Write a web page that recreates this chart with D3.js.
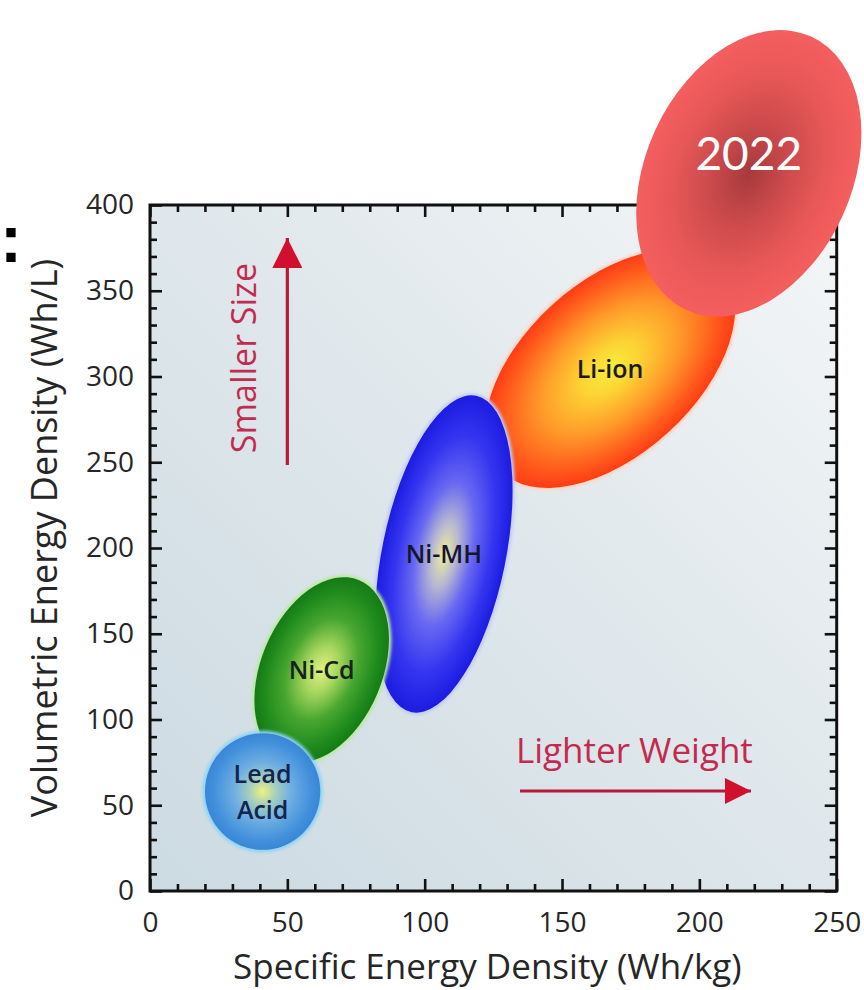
<!DOCTYPE html>
<html>
<head>
<meta charset="utf-8">
<script src="https://cdn.jsdelivr.net/npm/d3@7"></script>
<style>
  html, body { margin: 0; padding: 0; background: #ffffff; }
  svg { display: block; }
</style>
</head>
<body>
<script>
// Battery chemistries: ranges of specific energy (Wh/kg) and volumetric energy (Wh/L)
const chemistries   = ["Li-ion", "Ni-MH", "Ni-Cd", "Lead Acid", "2022"];
const labelLines    = [["Li-ion"], ["Ni-MH"], ["Ni-Cd"], ["Lead", "Acid"], ["2022"]];
const specificMin   = [122, 82, 38, 20, 177];
const specificMax   = [213, 132, 87, 62, 259];
const volumetricMin = [235, 104, 75, 24, 335];
const volumetricMax = [374, 289, 183, 92, 502];
// correlation between the two densities inside each range (gives the tilt)
const correlation   = [0.5, 0.4, 0.33, 0, 0.28];

const xTicks = [0, 50, 100, 150, 200, 250];
const yTicks = [0, 50, 100, 150, 200, 250, 300, 350, 400];

// fill styles, one per chemistry
const fills = [
  { stops: [["0%", "#f6ee3c"], ["22%", "#fcd434"], ["55%", "#ff9a2a"], ["85%", "#ff5a1c"], ["100%", "#ff3c14"]], rim: "#ffd6c6", ink: "#1c1a14" },
  { stops: [["0%", "#efee9a"], ["20%", "#b8b8d2"], ["45%", "#6868f2"], ["75%", "#3434f0"], ["100%", "#1c1ce2"]], rim: "#c4ccf6", ink: "#141630" },
  { stops: [["0%", "#e2f282"], ["25%", "#a6d65e"], ["55%", "#48a630"], ["85%", "#1e8a1c"], ["100%", "#167a16"]], rim: "#bce8a6", ink: "#14241a" },
  { stops: [["0%", "#eef27c"], ["22%", "#a8d0bc"], ["50%", "#6eaee2"], ["85%", "#4290dc"], ["100%", "#3a86d6"]], rim: "#8ed4f4", ink: "#14244a" },
  { stops: [["0%", "#a63a3c"], ["35%", "#cc4a4c"], ["70%", "#e85858"], ["100%", "#f45e5e"]], rim: null, ink: "#ffffff" }
];

const W = 864, H = 990;
const x = d3.scaleLinear().domain([0, 250]).range([150, 836.7]);
const y = d3.scaleLinear().domain([0, 400]).range([891, 205]);

const svg = d3.select("body").append("svg")
  .attr("width", W).attr("height", H)
  .attr("viewBox", `0 0 ${W} ${H}`);

const defs = svg.append("defs");

// plot background
const bg = defs.append("linearGradient").attr("id", "plotBg")
  .attr("x1", 0).attr("y1", 1).attr("x2", 1).attr("y2", 0);
bg.append("stop").attr("offset", "0%").attr("stop-color", "#ccdae2");
bg.append("stop").attr("offset", "55%").attr("stop-color", "#e0e8ec");
bg.append("stop").attr("offset", "100%").attr("stop-color", "#f4f6f7");

defs.append("filter").attr("id", "soft")
  .attr("x", "-20%").attr("y", "-20%").attr("width", "140%").attr("height", "140%")
  .append("feGaussianBlur").attr("stdDeviation", 1.6);

fills.forEach((f, i) => {
  const g = defs.append("radialGradient").attr("id", "fill" + i)
    .attr("cx", "50%").attr("cy", "50%").attr("r", "50%");
  f.stops.forEach(s => g.append("stop").attr("offset", s[0]).attr("stop-color", s[1]));
});

// arrow heads
defs.append("marker").attr("id", "headUp")
  .attr("viewBox", "0 0 10 10").attr("refX", 10).attr("refY", 5)
  .attr("markerUnits", "userSpaceOnUse").attr("markerWidth", 32).attr("markerHeight", 30)
  .attr("orient", "auto")
  .append("path").attr("d", "M0,0 L10,5 L0,10 Z").attr("fill", "#d0102e");
defs.append("marker").attr("id", "headRight")
  .attr("viewBox", "0 0 10 10").attr("refX", 10).attr("refY", 5)
  .attr("markerUnits", "userSpaceOnUse").attr("markerWidth", 34).attr("markerHeight", 26)
  .attr("orient", "auto")
  .append("path").attr("d", "M0,0 L10,5 L0,10 Z").attr("fill", "#d0102e");

const x0 = x.range()[0], x1 = x.range()[1];
const yTop = y.range()[1], yBot = y.range()[0];

svg.append("rect")
  .attr("x", x0).attr("y", yTop)
  .attr("width", x1 - x0).attr("height", yBot - yTop)
  .attr("fill", "url(#plotBg)");

// axes: ticks point into the plot on all four sides
const minorX = d3.range(0, 251, 10).filter(v => v % 50 !== 0);
const minorY = d3.range(0, 401, 10).filter(v => v % 50 !== 0);

function styleAxis(sel) {
  sel.select(".domain").remove();
  sel.selectAll(".tick line").attr("stroke", "#111").attr("stroke-width", 2.6);
  sel.selectAll(".tick text")
    .attr("fill", "#262626")
    .style("font-family", "'Open Sans', sans-serif")
    .style("font-size", "28px");
}

const axes = svg.append("g");
axes.append("g").attr("transform", `translate(0,${yBot})`)
  .call(d3.axisBottom(x).tickValues(xTicks).tickSizeInner(-12).tickSizeOuter(0).tickPadding(21))
  .call(styleAxis);
axes.append("g").attr("transform", `translate(0,${yBot})`)
  .call(d3.axisBottom(x).tickValues(minorX).tickSizeInner(-7).tickSizeOuter(0).tickFormat(""))
  .call(styleAxis);
axes.append("g").attr("transform", `translate(0,${yTop})`)
  .call(d3.axisTop(x).tickValues(xTicks).tickSizeInner(-12).tickSizeOuter(0).tickFormat(""))
  .call(styleAxis);
axes.append("g").attr("transform", `translate(0,${yTop})`)
  .call(d3.axisTop(x).tickValues(minorX).tickSizeInner(-7).tickSizeOuter(0).tickFormat(""))
  .call(styleAxis);
axes.append("g").attr("transform", `translate(${x0},0)`)
  .call(d3.axisLeft(y).tickValues(yTicks).tickSizeInner(-12).tickSizeOuter(0).tickPadding(16))
  .call(styleAxis);
axes.append("g").attr("transform", `translate(${x0},0)`)
  .call(d3.axisLeft(y).tickValues(minorY).tickSizeInner(-7).tickSizeOuter(0).tickFormat(""))
  .call(styleAxis);
axes.append("g").attr("transform", `translate(${x1},0)`)
  .call(d3.axisRight(y).tickValues(yTicks).tickSizeInner(-12).tickSizeOuter(0).tickFormat(""))
  .call(styleAxis);
axes.append("g").attr("transform", `translate(${x1},0)`)
  .call(d3.axisRight(y).tickValues(minorY).tickSizeInner(-7).tickSizeOuter(0).tickFormat(""))
  .call(styleAxis);

svg.append("rect")
  .attr("x", x0).attr("y", yTop)
  .attr("width", x1 - x0).attr("height", yBot - yTop)
  .attr("fill", "none").attr("stroke", "#111").attr("stroke-width", 3);

// axis titles
svg.append("text")
  .attr("x", (x0 + x1) / 2 - 6).attr("y", 979)
  .attr("text-anchor", "middle")
  .attr("fill", "#262626")
  .style("font-family", "'Open Sans', sans-serif").style("font-size", "35px")
  .text("Specific Energy Density (Wh/kg)");

svg.append("text")
  .attr("transform", `translate(57,538) rotate(-90)`)
  .attr("text-anchor", "middle")
  .attr("fill", "#262626")
  .style("font-family", "'Open Sans', sans-serif").style("font-size", "36px")
  .text("Volumetric Energy Density (Wh/L)");

// trend annotations
svg.append("line")
  .attr("x1", x(50)).attr("y1", 465).attr("x2", x(50)).attr("y2", 238)
  .attr("stroke", "#b8183a").attr("stroke-width", 3.2)
  .attr("marker-end", "url(#headUp)");
svg.append("text")
  .attr("transform", `translate(256,358) rotate(-90)`)
  .attr("text-anchor", "middle")
  .attr("fill", "#c42a50")
  .style("font-family", "'Open Sans', sans-serif").style("font-size", "34px")
  .text("Smaller Size");

svg.append("line")
  .attr("x1", 520).attr("y1", 791).attr("x2", 751).attr("y2", 791)
  .attr("stroke", "#b8183a").attr("stroke-width", 3.2)
  .attr("marker-end", "url(#headRight)");
svg.append("text")
  .attr("x", 516).attr("y", 763)
  .attr("fill", "#c42a50")
  .style("font-family", "'Open Sans', sans-serif").style("font-size", "35px")
  .text("Lighter Weight");

// each range drawn as an ellipse whose bounding box spans the min/max values
const regions = chemistries.map((name, i) => {
  const cx = (x(specificMin[i]) + x(specificMax[i])) / 2;
  const cy = (y(volumetricMin[i]) + y(volumetricMax[i])) / 2;
  const hx = (x(specificMax[i]) - x(specificMin[i])) / 2;
  const hy = (y(volumetricMin[i]) - y(volumetricMax[i])) / 2;
  const r = -correlation[i]; // screen y runs downward
  const a = hx * hx, c = hy * hy, b = r * hx * hy;
  const mid = (a + c) / 2, d = Math.sqrt(((a - c) / 2) ** 2 + b * b);
  const angle = 0.5 * Math.atan2(2 * b, a - c) * 180 / Math.PI;
  return { name, i, cx, cy, rx: Math.sqrt(mid + d), ry: Math.sqrt(Math.max(mid - d, 0)), angle };
});

const blobs = svg.append("g").selectAll("g").data(regions).join("g")
  .attr("transform", d => `translate(${d.cx},${d.cy}) rotate(${d.angle})`);

blobs.filter(d => fills[d.i].rim)
  .append("ellipse")
  .attr("rx", d => d.rx + 2.5).attr("ry", d => d.ry + 2.5)
  .attr("fill", d => fills[d.i].rim)
  .attr("filter", "url(#soft)");

blobs.append("ellipse")
  .attr("rx", d => d.rx).attr("ry", d => d.ry)
  .attr("fill", d => `url(#fill${d.i})`);

// labels
const labels = svg.append("g").selectAll("text").data(regions).join("text")
  .attr("text-anchor", "middle")
  .attr("fill", d => fills[d.i].ink)
  .style("font-family", d => d.name === "2022" ? "Lato, 'Open Sans', sans-serif" : "'Open Sans', sans-serif")
  .style("font-size", d => d.name === "2022" ? "46px" : "25px")
  .style("font-weight", d => d.name === "2022" ? 400 : 600);

labels.each(function (d) {
  const lines = labelLines[d.i];
  const step = 36;
  const lift = d.name === "2022" ? -20 : 0;
  d3.select(this).selectAll("tspan").data(lines).join("tspan")
    .attr("x", d.cx)
    .attr("y", (t, k) => d.cy + lift + (k - (lines.length - 1) / 2) * step)
    .attr("dy", "0.36em")
    .text(t => t);
});

// trailing colon of a heading at the left edge
svg.append("text")
  .attr("x", 0).attr("y", 262)
  .attr("fill", "#000")
  .style("font-family", "'Liberation Sans', Arial, sans-serif")
  .style("font-weight", 700).style("font-size", "66px")
  .text(":");
</script>
</body>
</html>
